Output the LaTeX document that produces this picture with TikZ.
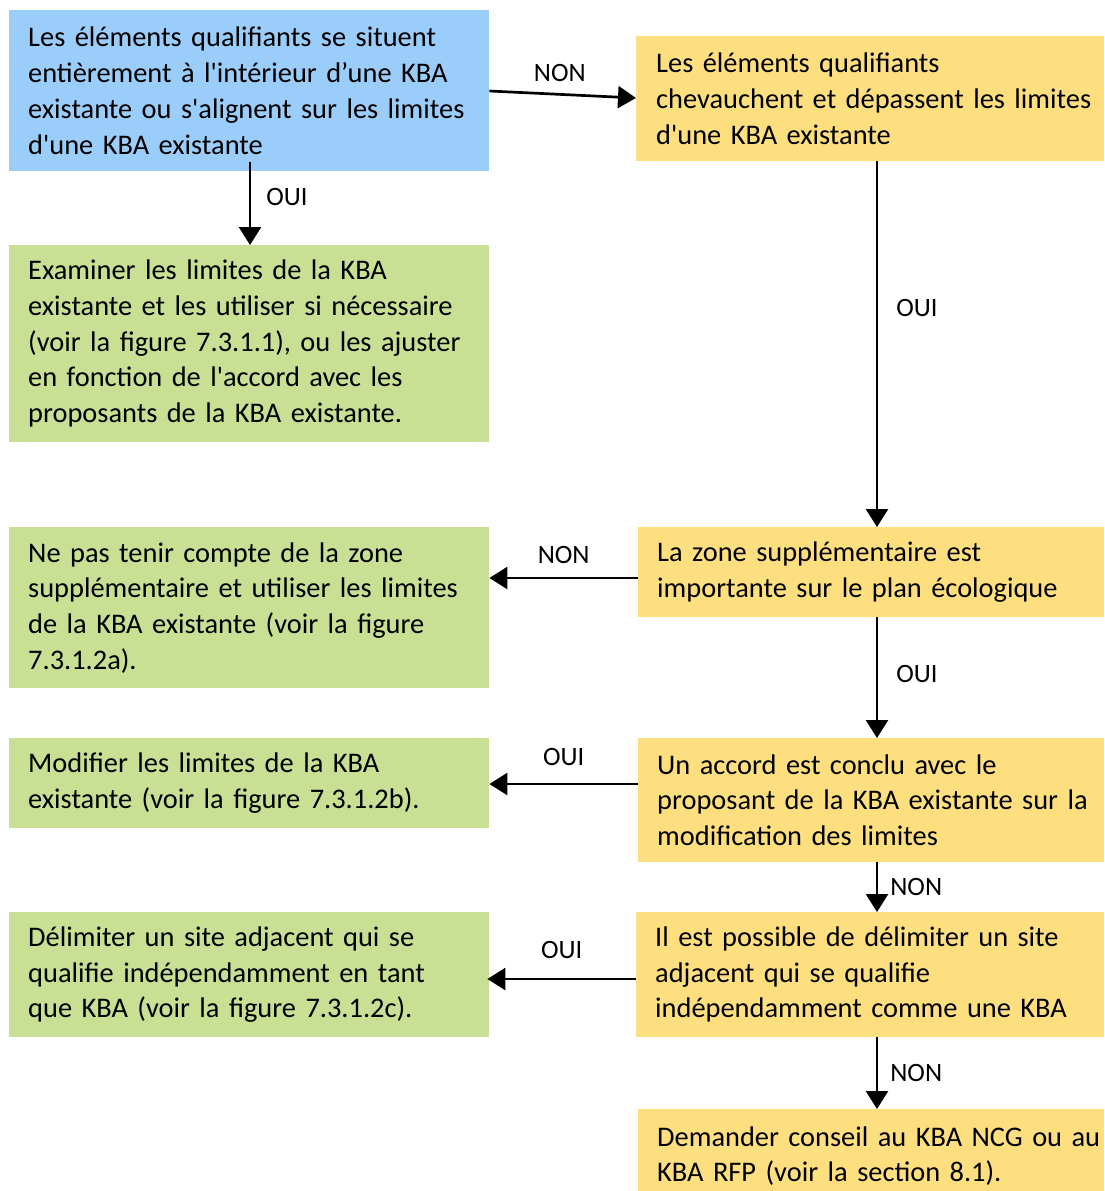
\documentclass[tikz,border=0pt]{standalone}
\usepackage{fontspec}
\setmainfont{Carlito}[Ligatures=TeXOff]
\usetikzlibrary{arrows.meta}
\definecolor{qblue}{RGB}{155,205,250}
\definecolor{qyellow}{RGB}{254,223,128}
\definecolor{qgreen}{RGB}{200,223,148}
\tikzset{
  x=1pt, y=-1pt,
  box/.style={anchor=north west, inner xsep=0pt, inner ysep=0pt, align=left,
    font=\fontsize{28.4}{35.7}\selectfont},
  flow/.style={line width=2.7pt, -{Triangle[length=18pt,width=22pt]}},
  lbl/.style={font=\fontsize{26.5}{30}\selectfont, inner sep=0pt},
}
% box: name, colour, x, y, width, height, left padding, text
\newcommand{\qbox}[8]{%
  \node[box, fill=#2, minimum width=#5pt, minimum height=#6pt, text width=#5pt] (#1) at (#3,#4) {\leftskip=#7pt #8\par};}
\begin{document}
\begin{tikzpicture}
\useasboundingbox (0,0) rectangle (1104,1191);
\begin{scope}
\clip (0,0) rectangle (1104,1191);
\qbox{a}{qblue}{9}{10}{480}{161}{19}{Les éléments qualifiants se situent\\entièrement à l'intérieur d’une KBA\\existante ou s'alignent sur les limites\\d'une KBA existante}
\qbox{b}{qyellow}{636}{36}{468}{125}{20}{Les éléments qualifiants\\chevauchent et dépassent les limites\\d'une KBA existante}
\qbox{c}{qgreen}{9}{245}{480}{197}{19}{Examiner les limites de la KBA\\existante et les utiliser si nécessaire\\(voir la figure 7.3.1.1), ou les ajuster\\en fonction de l'accord avec les\\proposants de la KBA existante.}
\qbox{d}{qyellow}{638}{527}{466}{90}{19}{La zone supplémentaire est\\importante sur le plan écologique}
\qbox{e}{qgreen}{9}{527}{480}{161}{19}{Ne pas tenir compte de la zone\\supplémentaire et utiliser les limites\\de la KBA existante (voir la figure\\7.3.1.2a).}
\qbox{f}{qyellow}{638}{738}{466}{124}{19}{Un accord est conclu avec le\\proposant de la KBA existante sur la\\modification des limites}
\qbox{g}{qgreen}{9}{738}{480}{90}{19}{Modifier les limites de la KBA\\existante (voir la figure 7.3.1.2b).}
\qbox{h}{qyellow}{636}{912}{468}{125}{19}{Il est possible de délimiter un site\\adjacent qui se qualifie\\indépendamment comme une KBA}
\qbox{i}{qgreen}{9}{912}{480}{125}{19}{Délimiter un site adjacent qui se\\qualifie indépendamment en tant\\que KBA (voir la figure 7.3.1.2c).}
\qbox{j}{qyellow}{638}{1109}{466}{94}{19}{Demander conseil au KBA NCG ou au\\KBA RFP (voir la section 8.1).}
\end{scope}

% connectors
\draw[flow] (a.east |- 0,91) -- (b.west |- 0,98) node[lbl, pos=0.48, above=11pt] {NON};
\draw[flow] ([yshift=9pt]a.south -| 250,0) -- (c.north -| 250,0) node[lbl, pos=0.42, right=15pt] {OUI};
\draw[flow] (b.south -| 877,0) -- (d.north -| 877,0) node[lbl, pos=0.4, right=18pt] {OUI};
\draw[flow] (d.west |- 0,578) -- (e.east |- 0,578) node[lbl, midway, above=13pt] {NON};
\draw[flow] (d.south -| 877,0) -- (f.north -| 877,0) node[lbl, pos=0.47, right=18pt] {OUI};
\draw[flow] (f.west |- 0,784) -- (g.east |- 0,784) node[lbl, midway, above=17pt] {OUI};
\draw[flow] (f.south -| 877,0) -- (h.north -| 877,0) node[lbl, midway, right=12pt] {NON};
\draw[flow] (h.west |- 0,979) -- ([xshift=-2pt]i.east |- 0,979) node[lbl, midway, above=19pt] {OUI};
\draw[flow] (h.south -| 877,0) -- (j.north -| 877,0) node[lbl, midway, right=12pt] {NON};
\end{tikzpicture}
\end{document}
